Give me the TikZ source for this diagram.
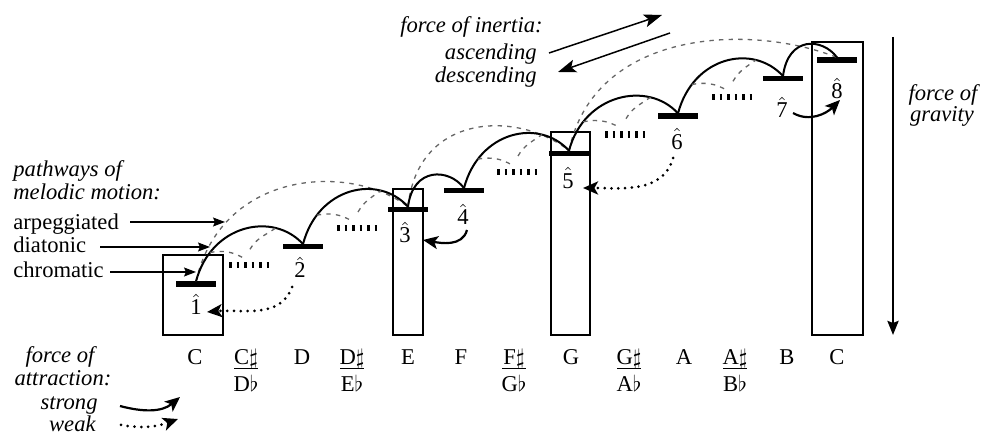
\documentclass[tikz,border=0pt]{standalone}
\usepackage{fontspec}
\setmainfont{Liberation Serif}
\usetikzlibrary{arrows.meta}
\begin{document}
\begin{tikzpicture}[x=0.5pt,y=0.5pt,
  font=\fontsize{11.3}{13.5}\selectfont,
  bar/.style={fill=black,minimum width=20pt,minimum height=2.6pt,inner sep=0pt,outer sep=0pt},
  hatlbl/.style={inner sep=0pt},
  lbl/.style={inner sep=0pt},
  box/.style={draw,line width=0.6pt},
  diat/.style={line width=1pt},
  arp/.style={black!60,line width=0.65pt,dash pattern=on 2.2pt off 2.6pt},
  chrom/.style={line width=3.2pt,dash pattern=on 1.4pt off 2.35pt},
  strongarr/.style={line width=1.1pt,-{Stealth[length=7.5pt,width=6.5pt,inset=1.8pt]}},
  weakarr/.style={line width=1.5pt,dash pattern=on 0pt off 3.4pt,line cap=round,-{Stealth[length=7.5pt,width=6.5pt,inset=1.8pt]}},
  ptr/.style={line width=0.6pt,-{Stealth[length=6pt,width=4.5pt,inset=1pt]}},
  inert/.style={line width=0.75pt,-{Stealth[length=9pt,width=6.5pt,inset=2pt]}},
  fracline/.style={line width=0.5pt},
]
\useasboundingbox (0,0) rectangle (984,438);

% boxes
\draw[box] (163,103) rectangle (223,183);
\draw[box] (393,103) rectangle (423,249);
\draw[box] (551,103) rectangle (590,306);
\draw[box] (812,103) rectangle (863,396);

% diatonic bars
\node[bar] (n1) at (196,154) {};
\node[bar] (n2) at (303,191.3) {};
\node[bar] (n3) at (408,228.7) {};
\node[bar] (n4) at (464,247.3) {};
\node[bar] (n5) at (569,284.7) {};
\node[bar] (n6) at (678,322) {};
\node[bar] (n7) at (783,359.3) {};
\node[bar] (n8) at (837,378) {};

% chromatic positions
\coordinate (c1) at (249,172.7);
\coordinate (c2) at (357,210);
\coordinate (c3) at (517,266);
\coordinate (c4) at (625,303.3);
\coordinate (c5) at (732,340.7);
\foreach \c in {c1,c2,c3,c4,c5}
  \draw[chrom] ([xshift=-10pt]\c) -- ([xshift=10pt]\c);

% hat labels
\node[hatlbl] (h1) at (196,133.5) {$\hat{\textrm{1}}$};
\node[hatlbl] (h2) at (300,170.5) {$\hat{\textrm{2}}$};
\node[hatlbl] (h3) at (405,205.5) {$\hat{\textrm{3}}$};
\node[hatlbl] (h4) at (463,223.5) {$\hat{\textrm{4}}$};
\node[hatlbl] (h5) at (568,260) {$\hat{\textrm{5}}$};
\node[hatlbl] (h6) at (677,299) {$\hat{\textrm{6}}$};
\node[hatlbl] (h7) at (782,330.5) {$\hat{\textrm{7}}$};
\node[hatlbl] (h8) at (837,349.5) {$\hat{\textrm{8}}$};

% arpeggiated (dashed) pathways
\draw[arp] (n1.north) .. controls +(25,110) and +(-60,45) .. (n3.north);
\draw[arp] (n3.north) .. controls +(10,95) and +(-50,40) .. (n5.north);
\draw[arp] (n5.north) .. controls +(25,120) and +(-90,35) .. (n8.north);

% diatonic (solid) pathways
\draw[diat] (n1.north) .. controls +(15,57) and +(-30,33) .. (n2.north)
  coordinate[pos=0.2] (a1s) coordinate[pos=0.75] (a1e);
\draw[diat] (n2.north) .. controls +(15,57) and +(-30,33) .. (n3.north)
  coordinate[pos=0.2] (a2s) coordinate[pos=0.75] (a2e);
\draw[diat] (n3.north) .. controls +(5,40) and +(-15,20) .. (n4.north);
\draw[diat] (n4.north) .. controls +(15,57) and +(-30,33) .. (n5.north)
  coordinate[pos=0.2] (a3s) coordinate[pos=0.75] (a3e);
\draw[diat] (n5.north) .. controls +(15,57) and +(-30,33) .. (n6.north)
  coordinate[pos=0.2] (a4s) coordinate[pos=0.75] (a4e);
\draw[diat] (n6.north) .. controls +(15,57) and +(-30,33) .. (n7.north)
  coordinate[pos=0.2] (a5s) coordinate[pos=0.75] (a5e);
\draw[diat] (n7.north) .. controls +(5,40) and +(-15,20) .. (n8.north);

% chromatic pathways
\foreach \i in {1,2,3,4,5}{
  \draw[arp] (a\i s) to[out=10,in=150] ([shift={(-2.5pt,3.5pt)}]c\i);
  \draw[arp] ([shift={(0.5pt,8pt)}]c\i) to[out=60,in=-145] (a\i e);
}

% forces of attraction in the diagram
\coordinate (s43a) at (467,208); \coordinate (s43b) at (423,198);
\draw[strongarr] (s43a) to[out=-105,in=-10] (s43b);
\coordinate (s78a) at (793,325); \coordinate (s78b) at (840,338);
\draw[strongarr] (s78a) to[out=-30,in=-135] (s78b);
\coordinate (w21a) at (292,151); \coordinate (w21b) at (207,126);
\draw[weakarr] (w21a) to[out=-110,in=5] (w21b);
\coordinate (w65a) at (673,280); \coordinate (w65b) at (583,250);
\draw[weakarr] (w65a) to[out=-105,in=0] (w65b);

% left labels
\node[lbl,anchor=base west,font=\fontsize{11.3}{13.5}\selectfont\itshape] (pw1) at (13,261) {pathways of};
\node[lbl,anchor=base west,font=\fontsize{11.3}{13.5}\selectfont\itshape] (pw2) at (13,238) {melodic motion:};
\node[lbl,anchor=base west] (larp) at (13,208) {arpeggiated};
\node[lbl,anchor=base west] (ldia) at (13,185) {diatonic};
\node[lbl,anchor=base west] (lchr) at (13,160) {chromatic};
\coordinate (pa1) at (130,216); \coordinate (pa2) at (225,216);
\coordinate (pd1) at (100,191); \coordinate (pd2) at (210,191);
\coordinate (pc1) at (110,166); \coordinate (pc2) at (196,166);
\draw[ptr] (pa1) -- (pa2);
\draw[ptr] (pd1) -- (pd2);
\draw[ptr] (pc1) -- (pc2);

% inertia
\node[lbl,anchor=base east,font=\fontsize{11.3}{13.5}\selectfont\itshape] (in1) at (543,405) {force of inertia:};
\node[lbl,anchor=base east,font=\fontsize{11.3}{13.5}\selectfont\itshape] (in2) at (537,378) {ascending};
\node[lbl,anchor=base east,font=\fontsize{11.3}{13.5}\selectfont\itshape] (in3) at (537,355) {descending};
\coordinate (ia1) at (549,385); \coordinate (ia2) at (662,423);
\coordinate (id1) at (670,405); \coordinate (id2) at (558,366);
\draw[inert] (ia1) -- (ia2);
\draw[inert] (id1) -- (id2);

% gravity
\coordinate (gtop) at (893,401); \coordinate (gbot) at (893,103);
\draw[line width=1.3pt,-{Stealth[length=7pt,width=5.5pt,inset=1pt]}] (gtop) -- (gbot);
\node[lbl,anchor=base,font=\fontsize{11.3}{13.5}\selectfont\itshape] (gr1) at (943,337) {force of};
\node[lbl,anchor=base,font=\fontsize{11.3}{13.5}\selectfont\itshape] (gr2) at (942,316) {gravity};

% note names
\node[lbl,anchor=base] (k0) at (195,73) {C};
\node[lbl,anchor=base] (k1t) at (246,73) {C$\sharp$};
\node[lbl,anchor=base] (k1b) at (246,46) {D$\flat$};
\draw[fracline] (234,69) -- (258,69);
\node[lbl,anchor=base] (k2) at (302,73) {D};
\node[lbl,anchor=base] (k3t) at (352,73) {D$\sharp$};
\node[lbl,anchor=base] (k3b) at (352,46) {E$\flat$};
\draw[fracline] (340,69) -- (364,69);
\node[lbl,anchor=base] (k4) at (408,73) {E};
\node[lbl,anchor=base] (k5) at (461,73) {F};
\node[lbl,anchor=base] (k6t) at (514,73) {F$\sharp$};
\node[lbl,anchor=base] (k6b) at (514,46) {G$\flat$};
\draw[fracline] (502,69) -- (526,69);
\node[lbl,anchor=base] (k7) at (571,73) {G};
\node[lbl,anchor=base] (k8t) at (629,73) {G$\sharp$};
\node[lbl,anchor=base] (k8b) at (629,46) {A$\flat$};
\draw[fracline] (617,69) -- (641,69);
\node[lbl,anchor=base] (k9) at (684,73) {A};
\node[lbl,anchor=base] (k10t) at (735,73) {A$\sharp$};
\node[lbl,anchor=base] (k10b) at (735,46) {B$\flat$};
\draw[fracline] (723,69) -- (747,69);
\node[lbl,anchor=base] (k11) at (787,73) {B};
\node[lbl,anchor=base] (k12) at (837,73) {C};

% force of attraction legend
\node[lbl,anchor=base,font=\fontsize{11.3}{13.5}\selectfont\itshape] (fa1) at (60,75) {force of};
\node[lbl,anchor=base,font=\fontsize{11.3}{13.5}\selectfont\itshape] (fa2) at (63,52) {attraction:};
\node[lbl,anchor=base east,font=\fontsize{11.3}{13.5}\selectfont\itshape] (fs) at (98,28) {strong};
\node[lbl,anchor=base east,font=\fontsize{11.3}{13.5}\selectfont\itshape] (fw) at (96,6) {weak};
\coordinate (ls1) at (120,32); \coordinate (ls2) at (180,41);
\draw[strongarr] (ls1) to[out=-15,in=-140] (ls2);
\coordinate (lw1) at (121,13); \coordinate (lw2) at (178,19);
\draw[weakarr] (lw1) to[out=-10,in=-160] (lw2);
\end{tikzpicture}
\end{document}
